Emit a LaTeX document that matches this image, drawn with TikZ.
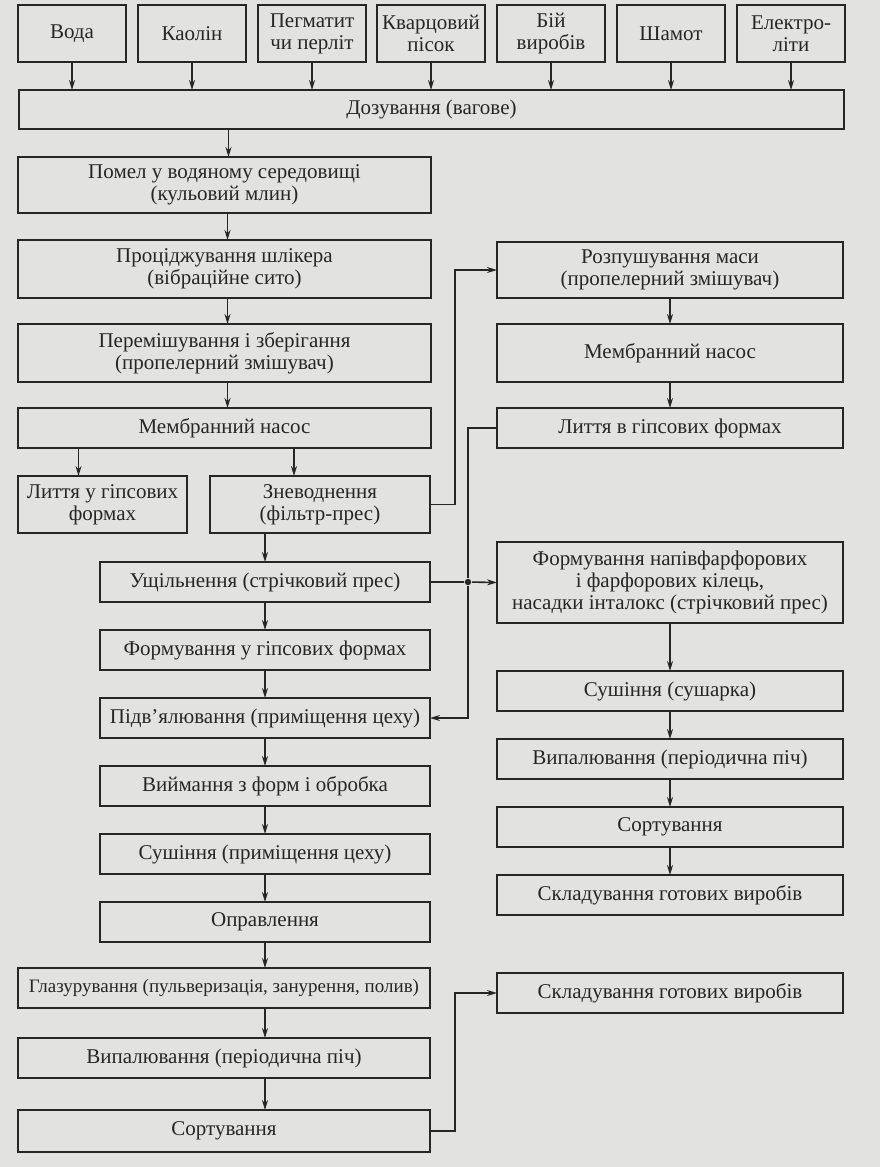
\documentclass[tikz,border=0pt]{standalone}
\usepackage{fontspec}
\setmainfont{Liberation Serif}
\usetikzlibrary{arrows.meta, positioning}

\definecolor{paper}{HTML}{E2E2E0}
\definecolor{ink}{HTML}{262626}

\begin{document}
\begin{tikzpicture}[
    x=0.5pt, y=-0.5pt,
    >={Stealth[length=5pt,width=3pt]}, line width=0.8pt,
    color=ink, font=\fontsize{10.5}{11}\selectfont,
    stage/.style={
      draw, align=center, inner sep=1.5pt, outer sep=0pt,
      minimum height=20pt},
    rawbox/.style={
      stage, minimum width=54pt, minimum height=28.5pt},
    leftbox/.style={
      stage, minimum width=206.5pt},
    midbox/.style={
      stage, minimum width=165pt},
    rightbox/.style={
      stage, minimum width=173pt},
    junction/.style={circle, fill=ink, inner sep=0pt, minimum size=3.2pt},
]

\fill[paper] (0,0) rectangle (880,1167);

% ---- raw materials ----
\node[rawbox] (voda)    at (72,33.5)  {Вода};
\node[rawbox] (kaolin)  at (192,33.5) {Каолін};
\node[rawbox] (pegm)    at (312,33.5) {Пегматит\\чи перліт};
\node[rawbox] (kvarc)   at (431,33.5) {Кварцовий\\пісок};
\node[rawbox] (bij)     at (551,33.5) {Бій\\виробів};
\node[rawbox] (shamot)  at (671,33.5) {Шамот};
\node[rawbox] (elektro) at (791,33.5) {Електро-\\літи};

\node[stage, minimum width=412.5pt, minimum height=19.5pt] (dos) at (431.5,109.5)
  {Дозування (вагове)};

% ---- slip preparation (left) ----
\node[leftbox, minimum height=28pt] (pomel) at (224.5,185)
  {Помел у водяному середовищі\\(кульовий млин)};
\node[leftbox, minimum height=29pt, below=13.5pt of pomel] (procid)
  {Проціджування шлікера\\(вібраційне сито)};
\node[leftbox, minimum height=29pt, below=13pt of procid] (peremish)
  {Перемішування і зберігання\\(пропелерний змішувач)};
\node[leftbox, below=13pt of peremish] (membrL) {Мембранний насос};

\node[stage, minimum width=84.5pt, minimum height=28.5pt] (lyttyaU) at (102.5,504.5)
  {Лиття у гіпсових\\формах};
\node[stage, minimum width=110pt, minimum height=28.5pt] (znevod) at (320,504.5)
  {Зневоднення\\(фільтр-прес)};

% ---- plastic forming (middle) ----
\node[midbox] (ushch) at (265,582) {Ущільнення (стрічковий прес)};
\node[midbox, below=14pt of ushch]   (formU)   {Формування у гіпсових формах};
\node[midbox, below=14pt of formU]   (pidvyal) {Підв'ялювання (приміщення цеху)};
\node[midbox, below=14pt of pidvyal] (viym)    {Виймання з форм і обробка};
\node[midbox, below=14pt of viym]    (sush)    {Сушіння (приміщення цеху)};
\node[midbox, below=14pt of sush]    (oprav)   {Оправлення};

\node[leftbox, minimum width=206pt] (glaz) at (224,988)
  {\fontsize{9.5}{11}\selectfont Глазурування (пульверизація, занурення, полив)};
\node[leftbox, minimum width=206pt, below=15pt of glaz] (vypalL)
  {Випалювання (періодична піч)};
\node[leftbox, minimum width=206pt, minimum height=21pt, below=16pt of vypalL] (sortL)
  {Сортування};

% ---- right column ----
\node[rightbox, minimum height=28pt] (rozpush) at (670,270)
  {Розпушування маси\\(пропелерний змішувач)};
\node[rightbox, minimum height=29pt, below=13pt of rozpush] (membrR) {Мембранний насос};
\node[rightbox, below=13pt of membrR] (lyttyaV) {Лиття в гіпсових формах};

\node[rightbox, minimum height=40.5pt] (formN) at (670,582.5)
  {Формування напівфарфорових\\і фарфорових кілець,\\насадки інталокс (стрічковий прес)};
\node[rightbox, below=24pt of formN]  (sushS)  {Сушіння (сушарка)};
\node[rightbox, below=14pt of sushS]  (vypalR) {Випалювання (періодична піч)};
\node[rightbox, below=14pt of vypalR] (sortR)  {Сортування};
\node[rightbox, below=14pt of sortR]  (sklad1) {Складування готових виробів};
\node[rightbox, below=29pt of sklad1] (sklad2) {Складування готових виробів};

% ---- branch point of the side line ----
\node[junction] (junc) at (468,582) {};

% ---- raw materials -> dosing ----
\draw[->] (voda.south)    -- (voda.south |- dos.north);
\draw[->] (kaolin.south)  -- (kaolin.south |- dos.north);
\draw[->] (pegm.south)    -- (pegm.south |- dos.north);
\draw[->] (kvarc.south)   -- (kvarc.south |- dos.north);
\draw[->] (bij.south)     -- (bij.south |- dos.north);
\draw[->] (shamot.south)  -- (shamot.south |- dos.north);
\draw[->] (elektro.south) -- (elektro.south |- dos.north);

% ---- left chain ----
\draw[->] ([xshift=2pt]pomel.north |- dos.south) -- ([xshift=2pt]pomel.north);
\draw[->] ([xshift=1.5pt]pomel.south) -- ([xshift=1.5pt]procid.north);
\draw[->] ([xshift=1.5pt]procid.south) -- ([xshift=1.5pt]peremish.north);
\draw[->] ([xshift=1.5pt]peremish.south) -- ([xshift=1.5pt]membrL.north);
\draw[->] ([xshift=-12pt]lyttyaU.north |- membrL.south) -- ([xshift=-12pt]lyttyaU.north);
\draw[->] ([xshift=-13pt]znevod.north |- membrL.south) -- ([xshift=-13pt]znevod.north);
\draw[->] (ushch.north |- znevod.south) -- (ushch.north);

% ---- filter cake -> right column ----
\draw[->] (znevod.east) -| ([xshift=-21pt]rozpush.west) -- (rozpush.west);
\draw[->] (rozpush) -- (membrR);
\draw[->] (membrR) -- (lyttyaV);
\draw[->] (lyttyaV.west) -| (junc) |- (pidvyal.east);

% ---- plastic mass -> rings ----
\draw[->] (ushch.east) -- (junc) -- (formN.west);

% ---- middle chain ----
\draw[->] (ushch) -- (formU);
\draw[->] (formU) -- (pidvyal);
\draw[->] (pidvyal) -- (viym);
\draw[->] (viym) -- (sush);
\draw[->] (sush) -- (oprav);
\draw[->] (oprav.south) -- (oprav.south |- glaz.north);
\draw[->] (oprav.south |- glaz.south) -- (oprav.south |- vypalL.north);
\draw[->] (oprav.south |- vypalL.south) -- (oprav.south |- sortL.north);
\draw[->] (sortL.east) -| ([xshift=-21pt]sklad2.west) -- (sklad2.west);

% ---- rings chain ----
\draw[->] (formN) -- (sushS);
\draw[->] (sushS) -- (vypalR);
\draw[->] (vypalR) -- (sortR);
\draw[->] (sortR) -- (sklad1);

\end{tikzpicture}
\end{document}
